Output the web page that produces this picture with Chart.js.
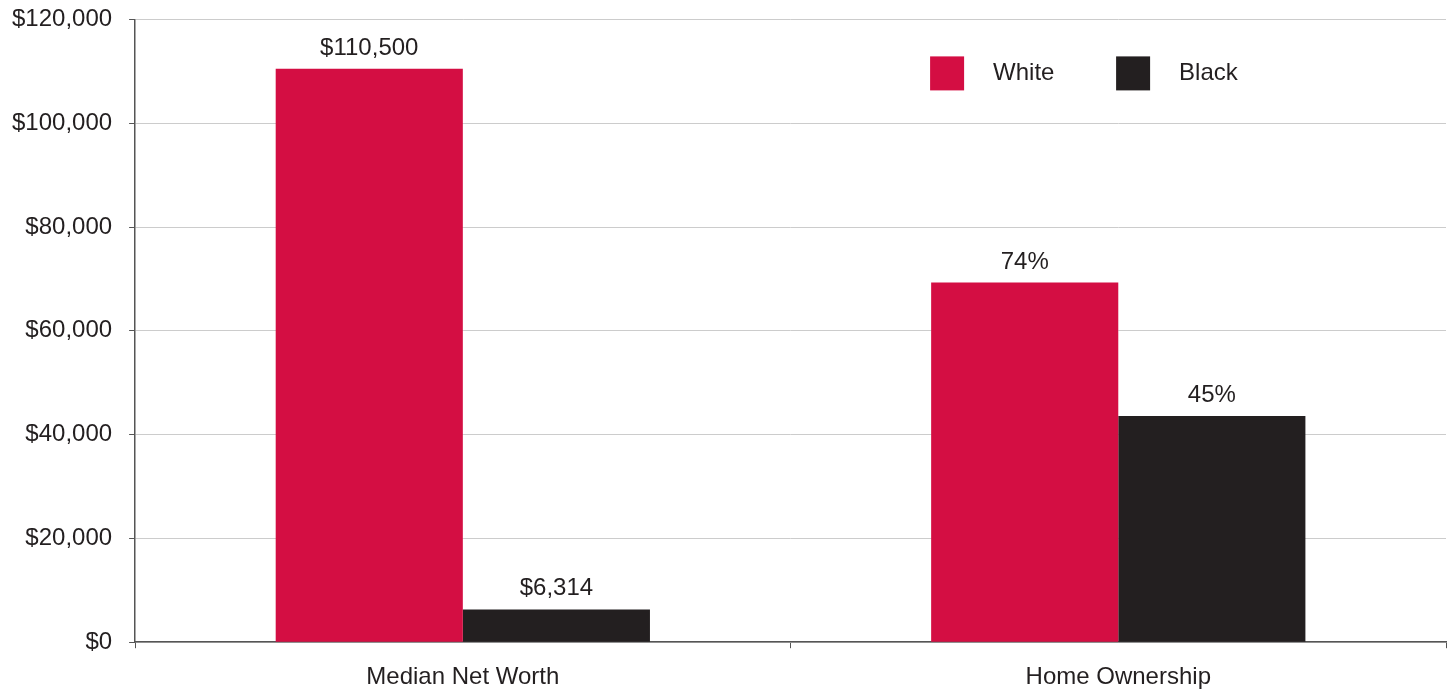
<!DOCTYPE html>
<html>
<head>
<meta charset="utf-8">
<script src="https://cdn.jsdelivr.net/npm/chart.js@4.4.0/dist/chart.umd.min.js"></script>
<style>
  html, body { margin: 0; padding: 0; background: #ffffff; overflow: hidden; }
  #outer { width: 1451px; height: 690px; overflow: hidden; position: relative; }
  #wrap { width: 1451px; height: 702px; position: absolute; left: 0; top: -12px; }
</style>
</head>
<body>
<div id="outer"><div id="wrap"><canvas id="c"></canvas></div></div>
<script>
const categories = ['Median Net Worth', 'Home Ownership'];
const seriesNames = ['White', 'Black'];
const whiteValues = [110500, 69300];
const blackValues = [6314, 43600];
const whiteLabels = ['$110,500', '74%'];
const blackLabels = ['$6,314', '45%'];
const yTickLabels = ['$0', '$20,000', '$40,000', '$60,000', '$80,000', '$100,000', '$120,000'];

const RED = '#D40E43';
const DARK = '#231F20';
const TEXT = '#231F20';
const FONT = "'Liberation Sans', Arial, Helvetica, sans-serif";

const valueLabelPlugin = {
  id: 'valueLabels',
  afterDatasetsDraw(chart) {
    const ctx = chart.ctx;
    ctx.save();
    ctx.font = '24px ' + FONT;
    ctx.fillStyle = TEXT;
    ctx.textAlign = 'center';
    ctx.textBaseline = 'alphabetic';
    chart.data.datasets.forEach((ds, di) => {
      const meta = chart.getDatasetMeta(di);
      meta.data.forEach((bar, i) => {
        ctx.fillText(ds.valueLabels[i], bar.x, bar.y - 14);
      });
    });
    ctx.restore();
  }
};

const legendPlugin = {
  id: 'customLegend',
  afterDraw(chart) {
    const ctx = chart.ctx;
    const a = chart.chartArea;
    const offsets = [795, 981];
    ctx.save();
    ctx.font = '24px ' + FONT;
    ctx.textBaseline = 'middle';
    ctx.textAlign = 'left';
    chart.data.datasets.forEach((ds, di) => {
      const x = a.left + offsets[di];
      const y = a.top + 37;
      ctx.fillStyle = ds.backgroundColor;
      ctx.fillRect(x, y, 34, 34);
      ctx.fillStyle = TEXT;
      ctx.fillText(ds.label, x + 63, y + 17);
    });
    ctx.restore();
  }
};

new Chart(document.getElementById('c'), {
  type: 'bar',
  data: {
    labels: categories,
    datasets: [
      { label: seriesNames[0], data: whiteValues, valueLabels: whiteLabels, backgroundColor: RED, borderWidth: 0 },
      { label: seriesNames[1], data: blackValues, valueLabels: blackLabels, backgroundColor: DARK, borderWidth: 0 }
    ]
  },
  options: {
    responsive: true,
    maintainAspectRatio: false,
    animation: false,
    devicePixelRatio: 1,
    datasets: { bar: { categoryPercentage: 0.571, barPercentage: 1.0 } },
    layout: { padding: { top: 0, right: 5, left: -5, bottom: -17 } },
    plugins: {
      legend: { display: false },
      tooltip: { enabled: false }
    },
    scales: {
      x: {
        offset: true,
        grid: { display: true, drawOnChartArea: false, drawTicks: true, tickLength: 6, tickColor: '#555555', offset: true },
        border: { display: true, color: '#555555', width: 1.5 },
        ticks: { color: TEXT, font: { family: FONT, size: 24 }, padding: 15 }
      },
      y: {
        min: 0,
        max: 120000,
        grid: { color: '#cccccc', lineWidth: 1, drawTicks: true, tickLength: 6, tickColor: '#555555' },
        border: { display: true, color: '#555555', width: 1.5 },
        ticks: {
          stepSize: 20000,
          color: TEXT,
          font: { family: FONT, size: 24 },
          padding: 17,
          callback: (v, i) => yTickLabels[i]
        }
      }
    }
  },
  plugins: [valueLabelPlugin, legendPlugin]
});
</script>
</body>
</html>
